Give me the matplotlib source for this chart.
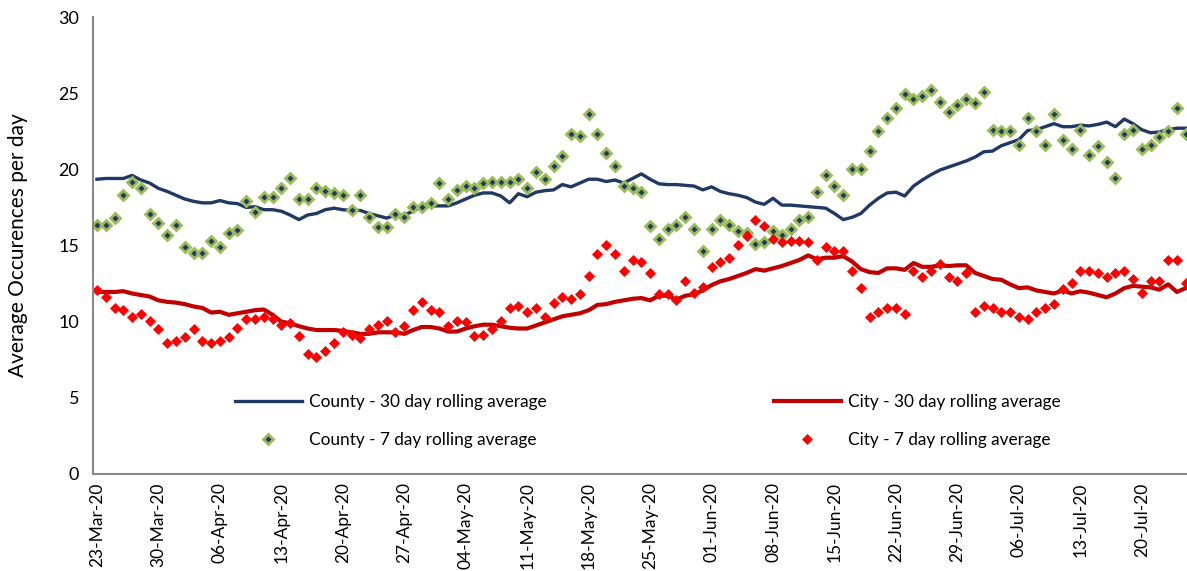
import matplotlib
matplotlib.use('Agg')
import matplotlib.pyplot as plt
import matplotlib.dates as mdates
import numpy as np
import pandas as pd

plt.rcParams['font.family'] = ['Lato', 'DejaVu Sans']

# daily dates, 23-Mar-20 to 25-Jul-20
dates = pd.date_range('2020-03-23', periods=125, freq='D')

county_30 = [
  19.35, 19.4, 19.4, 19.4, 19.6, 19.3, 19.1, 18.75, 18.55, 18.3,
  18.05, 17.9, 17.8, 17.8, 17.95, 17.8, 17.75, 17.5, 17.55, 17.35,
  17.35, 17.25, 17.0, 16.7, 17.0, 17.1, 17.35, 17.45, 17.35, 17.3,
  17.3, 17.1, 16.95, 16.8, 17.0, 17.0, 17.25, 17.55, 17.6, 17.6,
  17.6, 17.8, 18.05, 18.3, 18.45, 18.45, 18.25, 17.8, 18.4, 18.2,
  18.5, 18.6, 18.65, 19.0, 18.85, 19.1, 19.35, 19.35, 19.2, 19.3,
  19.1, 19.4, 19.7, 19.35, 19.05, 19.0, 19.0, 18.95, 18.9, 18.65,
  18.85, 18.55, 18.4, 18.3, 18.15, 17.85, 17.7, 18.1, 17.65, 17.65,
  17.6, 17.55, 17.5, 17.45, 17.1, 16.7, 16.85, 17.1, 17.65, 18.1,
  18.45, 18.5, 18.25, 18.9, 19.3, 19.65, 19.95, 20.15, 20.35, 20.55,
  20.8, 21.15, 21.2, 21.55, 21.75, 21.95, 22.55, 22.6, 22.8, 23.0,
  22.8, 22.8, 22.9, 22.85, 22.95, 23.1, 22.8, 23.3, 23.0, 22.6,
  22.4, 22.45, 22.6, 22.7, 22.7,
]

city_30 = [
  11.95, 11.95, 11.95, 12.0, 11.85, 11.75, 11.65, 11.4, 11.3, 11.25,
  11.15, 11.0, 10.9, 10.6, 10.65, 10.45, 10.55, 10.65, 10.75, 10.8,
  10.45, 10.0, 9.9, 9.7, 9.55, 9.45, 9.45, 9.45, 9.4, 9.3,
  9.2, 9.2, 9.3, 9.3, 9.3, 9.2, 9.45, 9.65, 9.65, 9.55,
  9.35, 9.35, 9.55, 9.7, 9.8, 9.8, 9.7, 9.6, 9.55, 9.55,
  9.75, 9.95, 10.15, 10.35, 10.45, 10.55, 10.75, 11.1, 11.15, 11.3,
  11.4, 11.5, 11.55, 11.4, 11.7, 11.7, 11.45, 11.7, 11.8, 12.05,
  12.4, 12.65, 12.8, 13.0, 13.2, 13.45, 13.35, 13.5, 13.65, 13.85,
  14.05, 14.35, 14.1, 14.2, 14.2, 14.3, 13.95, 13.45, 13.25, 13.2,
  13.5, 13.5, 13.4, 13.85, 13.6, 13.6, 13.7, 13.65, 13.7, 13.7,
  13.2, 13.0, 12.8, 12.75, 12.45, 12.2, 12.25, 12.05, 11.95, 11.85,
  12.05, 11.85, 12.0, 11.9, 11.75, 11.6, 11.85, 12.2, 12.35, 12.3,
  12.25, 12.1, 12.45, 11.95, 12.2,
]

county_7 = [
  16.35, 16.35, 16.8, 18.3, 19.2, 18.8, 17.05, 16.45, 15.7, 16.35,
  14.9, 14.5, 14.5, 15.3, 14.9, 15.8, 16.05, 17.95, 17.2, 18.2,
  18.2, 18.8, 19.45, 18.05, 18.05, 18.8, 18.6, 18.45, 18.3, 17.35,
  18.3, 16.85, 16.2, 16.2, 17.05, 16.9, 17.5, 17.5, 17.8, 19.1,
  18.05, 18.65, 18.9, 18.8, 19.1, 19.2, 19.2, 19.2, 19.35, 18.8,
  19.85, 19.35, 20.2, 20.85, 22.35, 22.2, 23.6, 22.35, 21.1, 20.2,
  18.9, 18.8, 18.5, 16.25, 15.45, 16.1, 16.35, 16.85, 16.1, 14.65,
  16.1, 16.7, 16.35, 15.95, 15.8, 15.1, 15.2, 15.95, 15.7, 16.1,
  16.7, 16.85, 18.5, 19.65, 18.9, 18.3, 20.05, 20.05, 21.2, 22.5,
  23.35, 24.05, 24.95, 24.6, 24.8, 25.2, 24.45, 23.75, 24.2, 24.6,
  24.35, 25.05, 22.6, 22.5, 22.5, 21.6, 23.35, 22.5, 21.6, 23.6,
  21.95, 21.35, 22.6, 20.95, 21.5, 20.5, 19.45, 22.35, 22.6, 21.35,
  21.6, 22.1, 22.5, 24.05, 22.35,
]

city_7 = [
  12.05, 11.65, 10.9, 10.75, 10.3, 10.5, 10.05, 9.5, 8.6, 8.75,
  9.0, 9.5, 8.75, 8.6, 8.75, 9.0, 9.6, 10.15, 10.15, 10.3,
  10.15, 9.8, 9.9, 9.05, 7.9, 7.65, 8.05, 8.6, 9.3, 9.15,
  8.9, 9.55, 9.8, 10.05, 9.3, 9.7, 10.75, 11.3, 10.75, 10.65,
  9.7, 10.05, 9.95, 9.05, 9.15, 9.5, 10.05, 10.9, 11.05, 10.65,
  10.9, 10.3, 11.2, 11.65, 11.5, 11.8, 13.0, 14.45, 15.05, 14.45,
  13.35, 14.05, 13.9, 13.2, 11.8, 11.8, 11.45, 12.65, 11.9, 12.3,
  13.6, 13.9, 14.15, 15.05, 15.65, 16.7, 16.25, 15.45, 15.2, 15.3,
  15.3, 15.2, 14.05, 14.9, 14.65, 14.65, 13.35, 12.2, 10.3, 10.65,
  10.9, 10.9, 10.5, 13.35, 12.9, 13.35, 13.8, 12.9, 12.65, 13.2,
  10.65, 11.05, 10.9, 10.65, 10.65, 10.3, 10.15, 10.65, 10.9, 11.15,
  12.15, 12.55, 13.35, 13.35, 13.2, 12.9, 13.2, 13.35, 12.8, 11.9,
  12.65, 12.65, 14.05, 14.05, 12.55,
]

# figure
fig = plt.figure(figsize=(11.87, 5.71), dpi=100)
ax = fig.add_axes([93 / 1187, 1 - 474 / 571, 1 - 93 / 1187, (474 - 17) / 571])

navy = '#1F3864'
dark_red = '#C00000'

l1, = ax.plot(dates, county_30, color=navy, linewidth=2.4, label='County - 30 day rolling average')
l2, = ax.plot(dates, county_7, linestyle='none', marker='D', markersize=5.5,
              markerfacecolor=navy, markeredgecolor='#9BBB59', markeredgewidth=2.0,
              label='County - 7 day rolling average')
l3, = ax.plot(dates, city_30, color=dark_red, linewidth=3.0, label='City - 30 day rolling average')
l4, = ax.plot(dates, city_7, linestyle='none', marker='D', markersize=5.5,
              markerfacecolor='#FF0000', markeredgecolor='#FF0000', markeredgewidth=0.5,
              label='City - 7 day rolling average')

# axes limits and ticks
x0 = mdates.date2num(dates[0])
ax.set_xlim(x0 - 0.45, x0 + 124.15)
ax.set_ylim(0, 30)
ax.set_yticks(np.arange(0, 31, 5))
ax.set_xticks(dates[::7])
ax.xaxis.set_major_formatter(mdates.DateFormatter('%d-%b-%y'))
ax.tick_params(axis='x', rotation=90, length=0, labelsize=12.5, pad=6)
ax.tick_params(axis='y', length=0, labelsize=13, pad=10)
ax.set_ylabel('Average Occurences per day', fontsize=15, labelpad=22)

for s in ['top', 'right']:
  ax.spines[s].set_visible(False)
for s in ['left', 'bottom']:
  ax.spines[s].set_color('#888888')
  ax.spines[s].set_linewidth(1.5)

leg = ax.legend(handles=[l1, l2, l3, l4], ncol=2, frameon=False, fontsize=12.4,
                loc='center left', bbox_to_anchor=(226 / 1187, 1 - 421 / 571),
                bbox_transform=fig.transFigure, borderpad=0, handlelength=3.9,
                handletextpad=0.4, columnspacing=13.2, labelspacing=1.25,
                numpoints=1)

fig.savefig('out.png', dpi=100)
